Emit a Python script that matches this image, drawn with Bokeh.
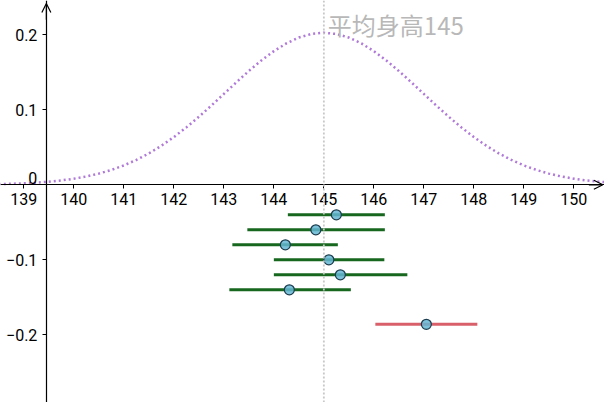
from bokeh.plotting import figure
from bokeh.models import (Range1d, LinearAxis, FixedTicker, Span, Label, Arrow,
                          OpenHead, ColumnDataSource, CustomJSTickFormatter)
from bokeh.embed import file_html
from bokeh.resources import INLINE

# ---- data ----
curve_x = [138.5, 138.75, 139.0, 139.25, 139.5, 139.75, 140.0, 140.25, 140.5, 140.75,
           141.0, 141.25, 141.5, 141.75, 142.0, 142.25, 142.5, 142.75, 143.0, 143.25,
           143.5, 143.75, 144.0, 144.25, 144.5, 144.75, 145.0, 145.25, 145.5, 145.75,
           146.0, 146.25, 146.5, 146.75, 147.0, 147.25, 147.5, 147.75, 148.0, 148.25,
           148.5, 148.75, 149.0, 149.25, 149.5, 149.75, 150.0, 150.25, 150.5, 150.75]
curve_y = [0.0009, 0.0013, 0.0020, 0.0029, 0.0041, 0.0058, 0.0081, 0.0111, 0.0149, 0.0198,
           0.0258, 0.0331, 0.0418, 0.0520, 0.0636, 0.0765, 0.0906, 0.1056, 0.1211, 0.1366,
           0.1517, 0.1658, 0.1782, 0.1885, 0.1963, 0.2011, 0.2027, 0.2011, 0.1963, 0.1885,
           0.1782, 0.1658, 0.1517, 0.1366, 0.1211, 0.1056, 0.0906, 0.0765, 0.0636, 0.0520,
           0.0418, 0.0331, 0.0258, 0.0198, 0.0149, 0.0111, 0.0081, 0.0058, 0.0041, 0.0029]

lower = [144.28, 143.47, 143.17, 144.00, 144.00, 143.11, 146.03]
upper = [146.22, 146.22, 145.28, 146.21, 146.67, 145.54, 148.07]
center = [145.25, 144.84, 144.23, 145.10, 145.33, 144.31, 147.05]
row_y = [-0.04, -0.06, -0.08, -0.10, -0.12, -0.14, -0.186]
row_color = ["#17671f", "#17671f", "#17671f", "#17671f", "#17671f", "#17671f", "#d9606a"]

mean_height = 145
mean_label = "平均身高145"
x_ticks = [139, 140, 141, 142, 143, 144, 145, 146, 147, 148, 149, 150]
y_ticks = [-0.2, -0.1, 0.1, 0.2]
y_axis_at = 139.45

W, H = 604, 402
p = figure(width=W, height=H, output_backend="svg", toolbar_location=None,
           x_axis_type=None, y_axis_type=None, min_border=0,
           x_range=Range1d(138.533, 150.613), y_range=Range1d(-0.2903, 0.2457))
p.outline_line_color = None
p.xgrid.visible = False
p.ygrid.visible = False

font = "Roboto"

xaxis = LinearAxis(fixed_location=0, ticker=FixedTicker(ticks=x_ticks),
                   major_label_text_font_size="16px", major_label_text_font=font,
                   major_label_text_color="#000000", axis_line_color="#000000",
                   axis_line_width=1.2, major_tick_in=0, major_tick_out=4,
                   major_tick_line_color="#000000", minor_tick_line_color=None,
                   major_label_standoff=4)
p.add_layout(xaxis, "below")

yaxis = LinearAxis(fixed_location=y_axis_at, ticker=FixedTicker(ticks=y_ticks),
                   formatter=CustomJSTickFormatter(code="""
                       const s = Math.abs(tick).toFixed(1);
                       return tick < 0 ? '\\u2212' + s : s;
                   """),
                   major_label_text_font_size="16px", major_label_text_font=font,
                   major_label_text_color="#000000", axis_line_color="#000000",
                   axis_line_width=1.2, major_tick_in=0, major_tick_out=4,
                   major_tick_line_color="#000000", minor_tick_line_color=None,
                   major_label_standoff=5)
p.add_layout(yaxis, "left")

p.add_layout(Label(x=y_axis_at, y=0, text="0", x_offset=-9, y_offset=1,
                   text_align="right", text_baseline="bottom",
                   text_font_size="16px", text_font=font, text_color="#000000"))

# axis arrows
p.add_layout(Arrow(end=OpenHead(size=9, line_width=1.2, line_color="#000000"),
                   x_start=150.3, y_start=0, x_end=150.58, y_end=0,
                   line_color="#000000", line_width=1.2))
p.add_layout(Arrow(end=OpenHead(size=9, line_width=1.2, line_color="#000000"),
                   x_start=y_axis_at, y_start=0.22, x_end=y_axis_at, y_end=0.2417,
                   line_color="#000000", line_width=1.2))

# mean line
p.add_layout(Span(location=mean_height, dimension="height", line_color="#c8c8c8",
                  line_width=1.8, line_dash="2 2"))
p.add_layout(Label(x=mean_height, y=0.2133, text=mean_label, x_offset=4,
                   text_baseline="alphabetic", text_align="left",
                   text_font_size="24px", text_font="Noto Sans CJK SC",
                   text_color="#b8b8b8"))

# normal curve
p.line(curve_x, curve_y, line_color="#b07ad8", line_width=2.5, line_dash="2 3")

# intervals
src = ColumnDataSource(dict(lower=lower, upper=upper, center=center, y=row_y, color=row_color))
p.segment(x0="lower", y0="y", x1="upper", y1="y", line_color="color", line_width=3, source=src)
p.scatter(x="center", y="y", size=10, fill_color="#64b6d4", fill_alpha=0.85,
          line_color="#1b3c4c", line_width=1.2, source=src)

open("out.html", "w").write(file_html(p, INLINE))
